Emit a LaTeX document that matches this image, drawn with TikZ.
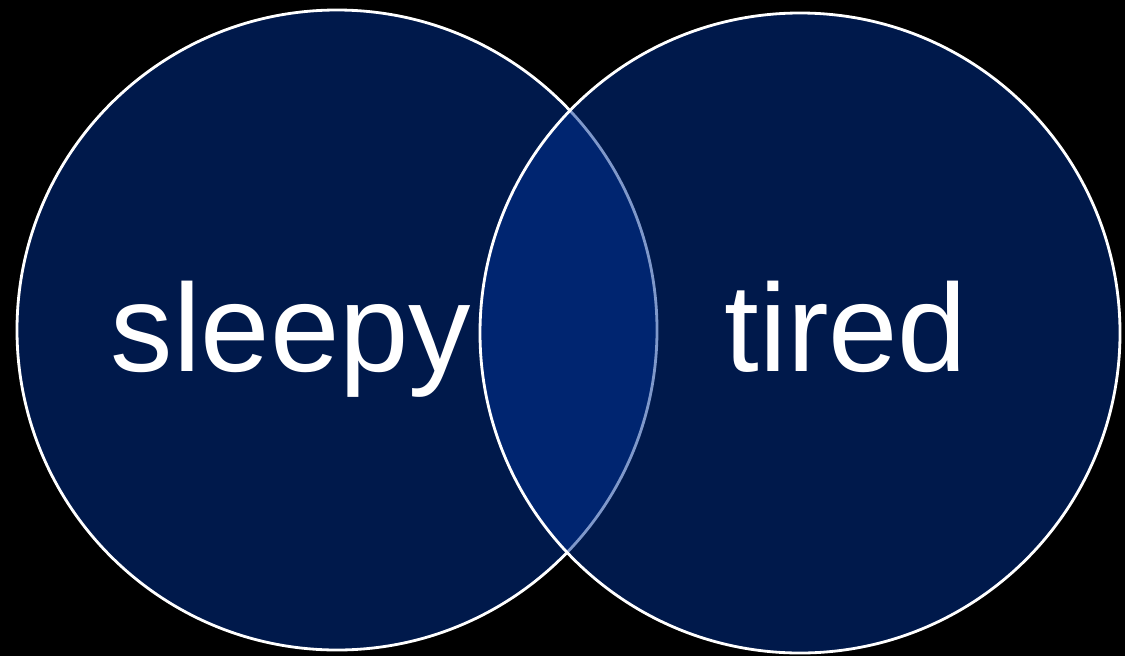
\documentclass[tikz,border=0pt]{standalone}
\usepackage{fontspec}
\setmainfont{Liberation Sans}
\usepackage{tikz}
\usetikzlibrary{positioning}

\definecolor{setblue}{RGB}{0,50,150}

\begin{document}
\begin{tikzpicture}[
  setcircle/.style={circle,draw=white,line width=1.6pt,fill=setblue,fill opacity=0.5,draw opacity=1,minimum size=12.8cm,inner sep=0pt},
  setlabel/.style={text=white,anchor=base,inner sep=0pt,font=\fontsize{71}{85}\selectfont}
]
% ---- background ----
\useasboundingbox (0,0) rectangle (22.5,13.12);
\fill[black] (0,0) rectangle (22.5,13.12);

% ---- the two sets ----
\node[setcircle] (sleepyset) at (6.74,6.52) {};
\node[setcircle] (tiredset)  at (16.0,6.46) {};

% ---- labels ----
\node[setlabel] (sleepy) at (5.82,5.70) {sleepy};
\node[setlabel] (tired)  at (16.92,5.70) {tired};
\end{tikzpicture}
\end{document}
